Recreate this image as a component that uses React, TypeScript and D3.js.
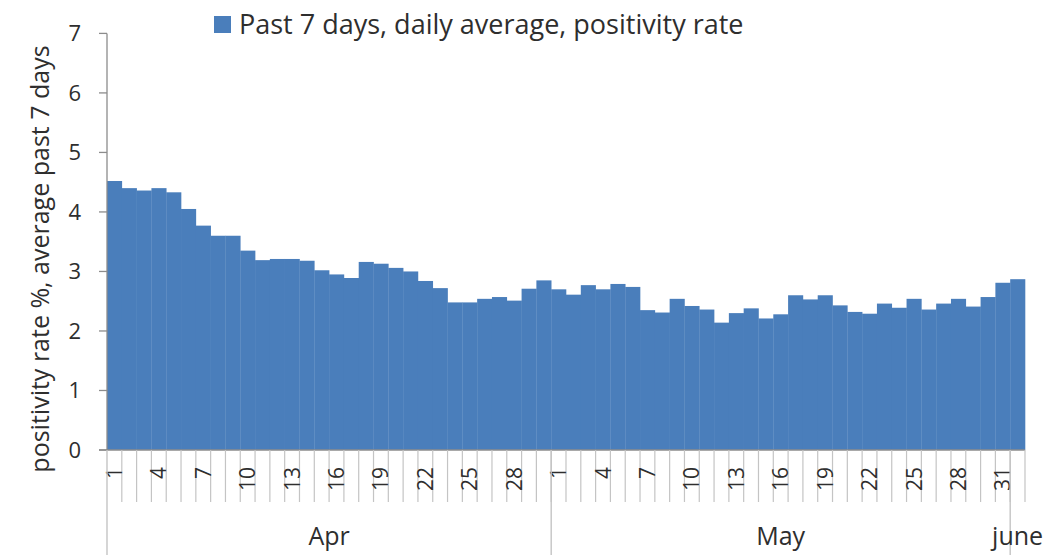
import React from "react";
import * as d3 from "d3";

const aprValues = [4.52, 4.40, 4.36, 4.40, 4.33, 4.05, 3.77, 3.60, 3.60, 3.35, 3.19, 3.21, 3.21, 3.18, 3.02, 2.95, 2.89, 3.16, 3.13, 3.06, 3.00, 2.84, 2.72, 2.48, 2.48, 2.54, 2.57, 2.51, 2.71, 2.85];
const mayValues = [2.70, 2.61, 2.77, 2.70, 2.79, 2.74, 2.35, 2.31, 2.54, 2.42, 2.36, 2.14, 2.30, 2.38, 2.21, 2.28, 2.60, 2.53, 2.60, 2.43, 2.32, 2.29, 2.46, 2.39, 2.54, 2.36, 2.46, 2.54, 2.41, 2.57, 2.81];
const juneValues = [2.87];
const months = ["Apr", "May", "june"];
const yTicks = [0, 1, 2, 3, 4, 5, 6, 7];
const legendLabel = "Past 7 days, daily average, positivity rate";
const yTitle = "positivity rate %, average past 7 days";

type Datum = { key: string; day: number; month: number; value: number };

const data: Datum[] = [
  ...aprValues.map((v, i) => ({ key: `0-${i + 1}`, day: i + 1, month: 0, value: v })),
  ...mayValues.map((v, i) => ({ key: `1-${i + 1}`, day: i + 1, month: 1, value: v })),
  ...juneValues.map((v, i) => ({ key: `2-${i + 1}`, day: i + 1, month: 2, value: v })),
];

const W = 1064;
const H = 555;
const left = 107;
const right = 1025;
const top = 33.4;
const bottom = 450;
const FONT = "'Open Sans', Lato, sans-serif";
const TEXT = "#2e2e2e";
const AXIS = "#8c8c8c";
const GRIDL = "#c4c4c4";
const BAR = "#4a7ebb";

export default function App() {
  const x = d3.scaleBand<string>().domain(data.map((d) => d.key)).range([left, right]).padding(0);
  const y = d3.scaleLinear().domain([0, 7]).range([bottom, top]);
  const bw = x.bandwidth();

  const monthGroups = months.map((m, mi) => {
    const ds = data.filter((d) => d.month === mi);
    const x0 = x(ds[0].key)!;
    const x1 = x(ds[ds.length - 1].key)! + bw;
    return { name: m, x0, x1 };
  });

  return (
    <div style={{ position: "fixed", left: 0, top: 0 }}>
      <svg width={W} height={H} style={{ display: "block", background: "#fff" }}>
        {/* bars */}
        {data.map((d) => (
          <rect key={d.key} x={x(d.key)!} y={y(d.value)} width={bw + 0.3} height={y(0) - y(d.value)} fill={BAR} />
        ))}
        {/* y axis */}
        <line x1={left} x2={left} y1={top} y2={bottom} stroke={AXIS} strokeWidth={1.3} />
        {yTicks.map((t) => (
          <g key={t}>
            <line x1={left - 8} x2={left} y1={y(t)} y2={y(t)} stroke={AXIS} strokeWidth={1.3} />
            <text x={81} y={y(t)} dy="0.36em" textAnchor="end" fontFamily={FONT} fontSize={22} fill={TEXT}>
              {t}
            </text>
          </g>
        ))}
        {/* x axis */}
        <line x1={left - 8} x2={right} y1={bottom} y2={bottom} stroke={AXIS} strokeWidth={1.3} />
        {data.map((d) => (
          <line key={"t" + d.key} x1={x(d.key)! + bw} x2={x(d.key)! + bw} y1={bottom} y2={502} stroke={GRIDL} strokeWidth={1.2} />
        ))}
        {data.map((d, i) =>
          i % 3 === 0 ? (
            <text
              key={"l" + d.key}
              transform={`translate(${x(d.key)! + bw / 2},467) rotate(-90)`}
              textAnchor="end"
              dy="0.36em"
              fontFamily={FONT}
              fontSize={21}
              fill={TEXT}
            >
              {d.day}
            </text>
          ) : null
        )}
        {/* month separators */}
        {monthGroups.map((g, gi) => (
          <line key={"m" + gi} x1={g.x0} x2={g.x0} y1={bottom} y2={H} stroke={GRIDL} strokeWidth={1.4} />
        ))}
        {monthGroups.map((g, gi) => (
          <text key={"mn" + gi} x={(g.x0 + g.x1) / 2} y={545} textAnchor="middle" fontFamily={FONT} fontSize={25} fill={TEXT}>
            {g.name}
          </text>
        ))}
        {/* y title */}
        <text transform={`translate(49,259) rotate(-90)`} textAnchor="middle" fontFamily={FONT} fontSize={25} fill={TEXT}>
          {yTitle}
        </text>
        {/* legend */}
        <rect x={214} y={16} width={17} height={17} fill={BAR} />
        <text x={239} y={34} fontFamily={FONT} fontSize={27} fill={TEXT}>
          {legendLabel}
        </text>
      </svg>
    </div>
  );
}
